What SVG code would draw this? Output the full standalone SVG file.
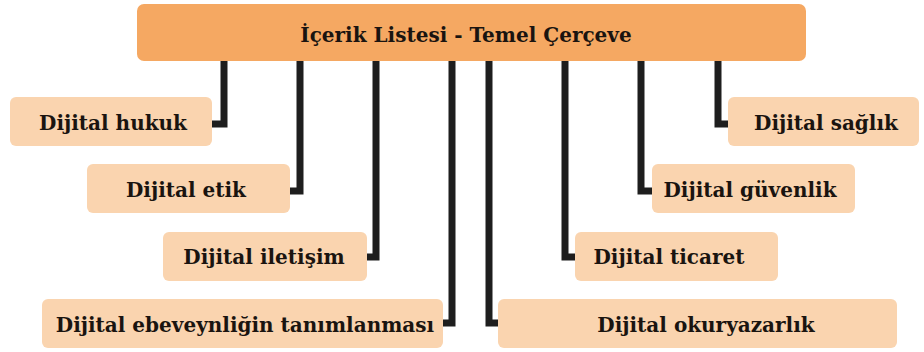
<svg xmlns="http://www.w3.org/2000/svg" width="924" height="352" viewBox="0 0 924 352">
<style>
.top{fill:#F5A862;}
.box{fill:#FAD4AF;}
.t{font-family:"DejaVu Serif","Liberation Serif",serif;font-weight:bold;font-size:20px;fill:#1a1410;text-anchor:middle;}
.c{fill:none;stroke:#1e1e1e;stroke-width:7;stroke-linejoin:miter;stroke-linecap:butt;}
</style>
<rect width="924" height="352" fill="#ffffff"/>
<g id="connectors">
<path class="c" d="M224 58 V124 H212"/>
<path class="c" d="M300 58 V191 H290"/>
<path class="c" d="M376 58 V257 H367"/>
<path class="c" d="M452 58 V323 H443"/>
<path class="c" d="M489 58 V323 H498"/>
<path class="c" d="M565 58 V257 H575"/>
<path class="c" d="M641 58 V191 H652"/>
<path class="c" d="M718 58 V124 H728"/>
</g>
<g id="root">
<rect class="top" x="137" y="4" width="669" height="57" rx="7"/>
<text class="t" x="466" y="42">İçerik Listesi - Temel Çerçeve</text>
</g>
<g id="n-hukuk">
<rect class="box" x="10" y="97" width="202" height="49" rx="6"/>
<text class="t" x="113" y="130">Dijital hukuk</text>
</g>
<g id="n-etik">
<rect class="box" x="87" y="164" width="203" height="49" rx="6"/>
<text class="t" x="186" y="197">Dijital etik</text>
</g>
<g id="n-iletisim">
<rect class="box" x="163" y="232" width="204" height="49" rx="6"/>
<text class="t" x="264" y="264">Dijital iletişim</text>
</g>
<g id="n-ebeveyn">
<rect class="box" x="42" y="299" width="401" height="49" rx="6"/>
<text class="t" x="245" y="332">Dijital ebeveynliğin tanımlanması</text>
</g>
<g id="n-okuryazarlik">
<rect class="box" x="498" y="299" width="399" height="49" rx="6"/>
<text class="t" x="706" y="332">Dijital okuryazarlık</text>
</g>
<g id="n-ticaret">
<rect class="box" x="575" y="232" width="203" height="49" rx="6"/>
<text class="t" x="669" y="264">Dijital ticaret</text>
</g>
<g id="n-guvenlik">
<rect class="box" x="652" y="164" width="203" height="49" rx="6"/>
<text class="t" x="750" y="197">Dijital güvenlik</text>
</g>
<g id="n-saglik">
<rect class="box" x="728" y="97" width="191" height="49" rx="6"/>
<text class="t" x="826" y="130">Dijital sağlık</text>
</g>
</svg>
